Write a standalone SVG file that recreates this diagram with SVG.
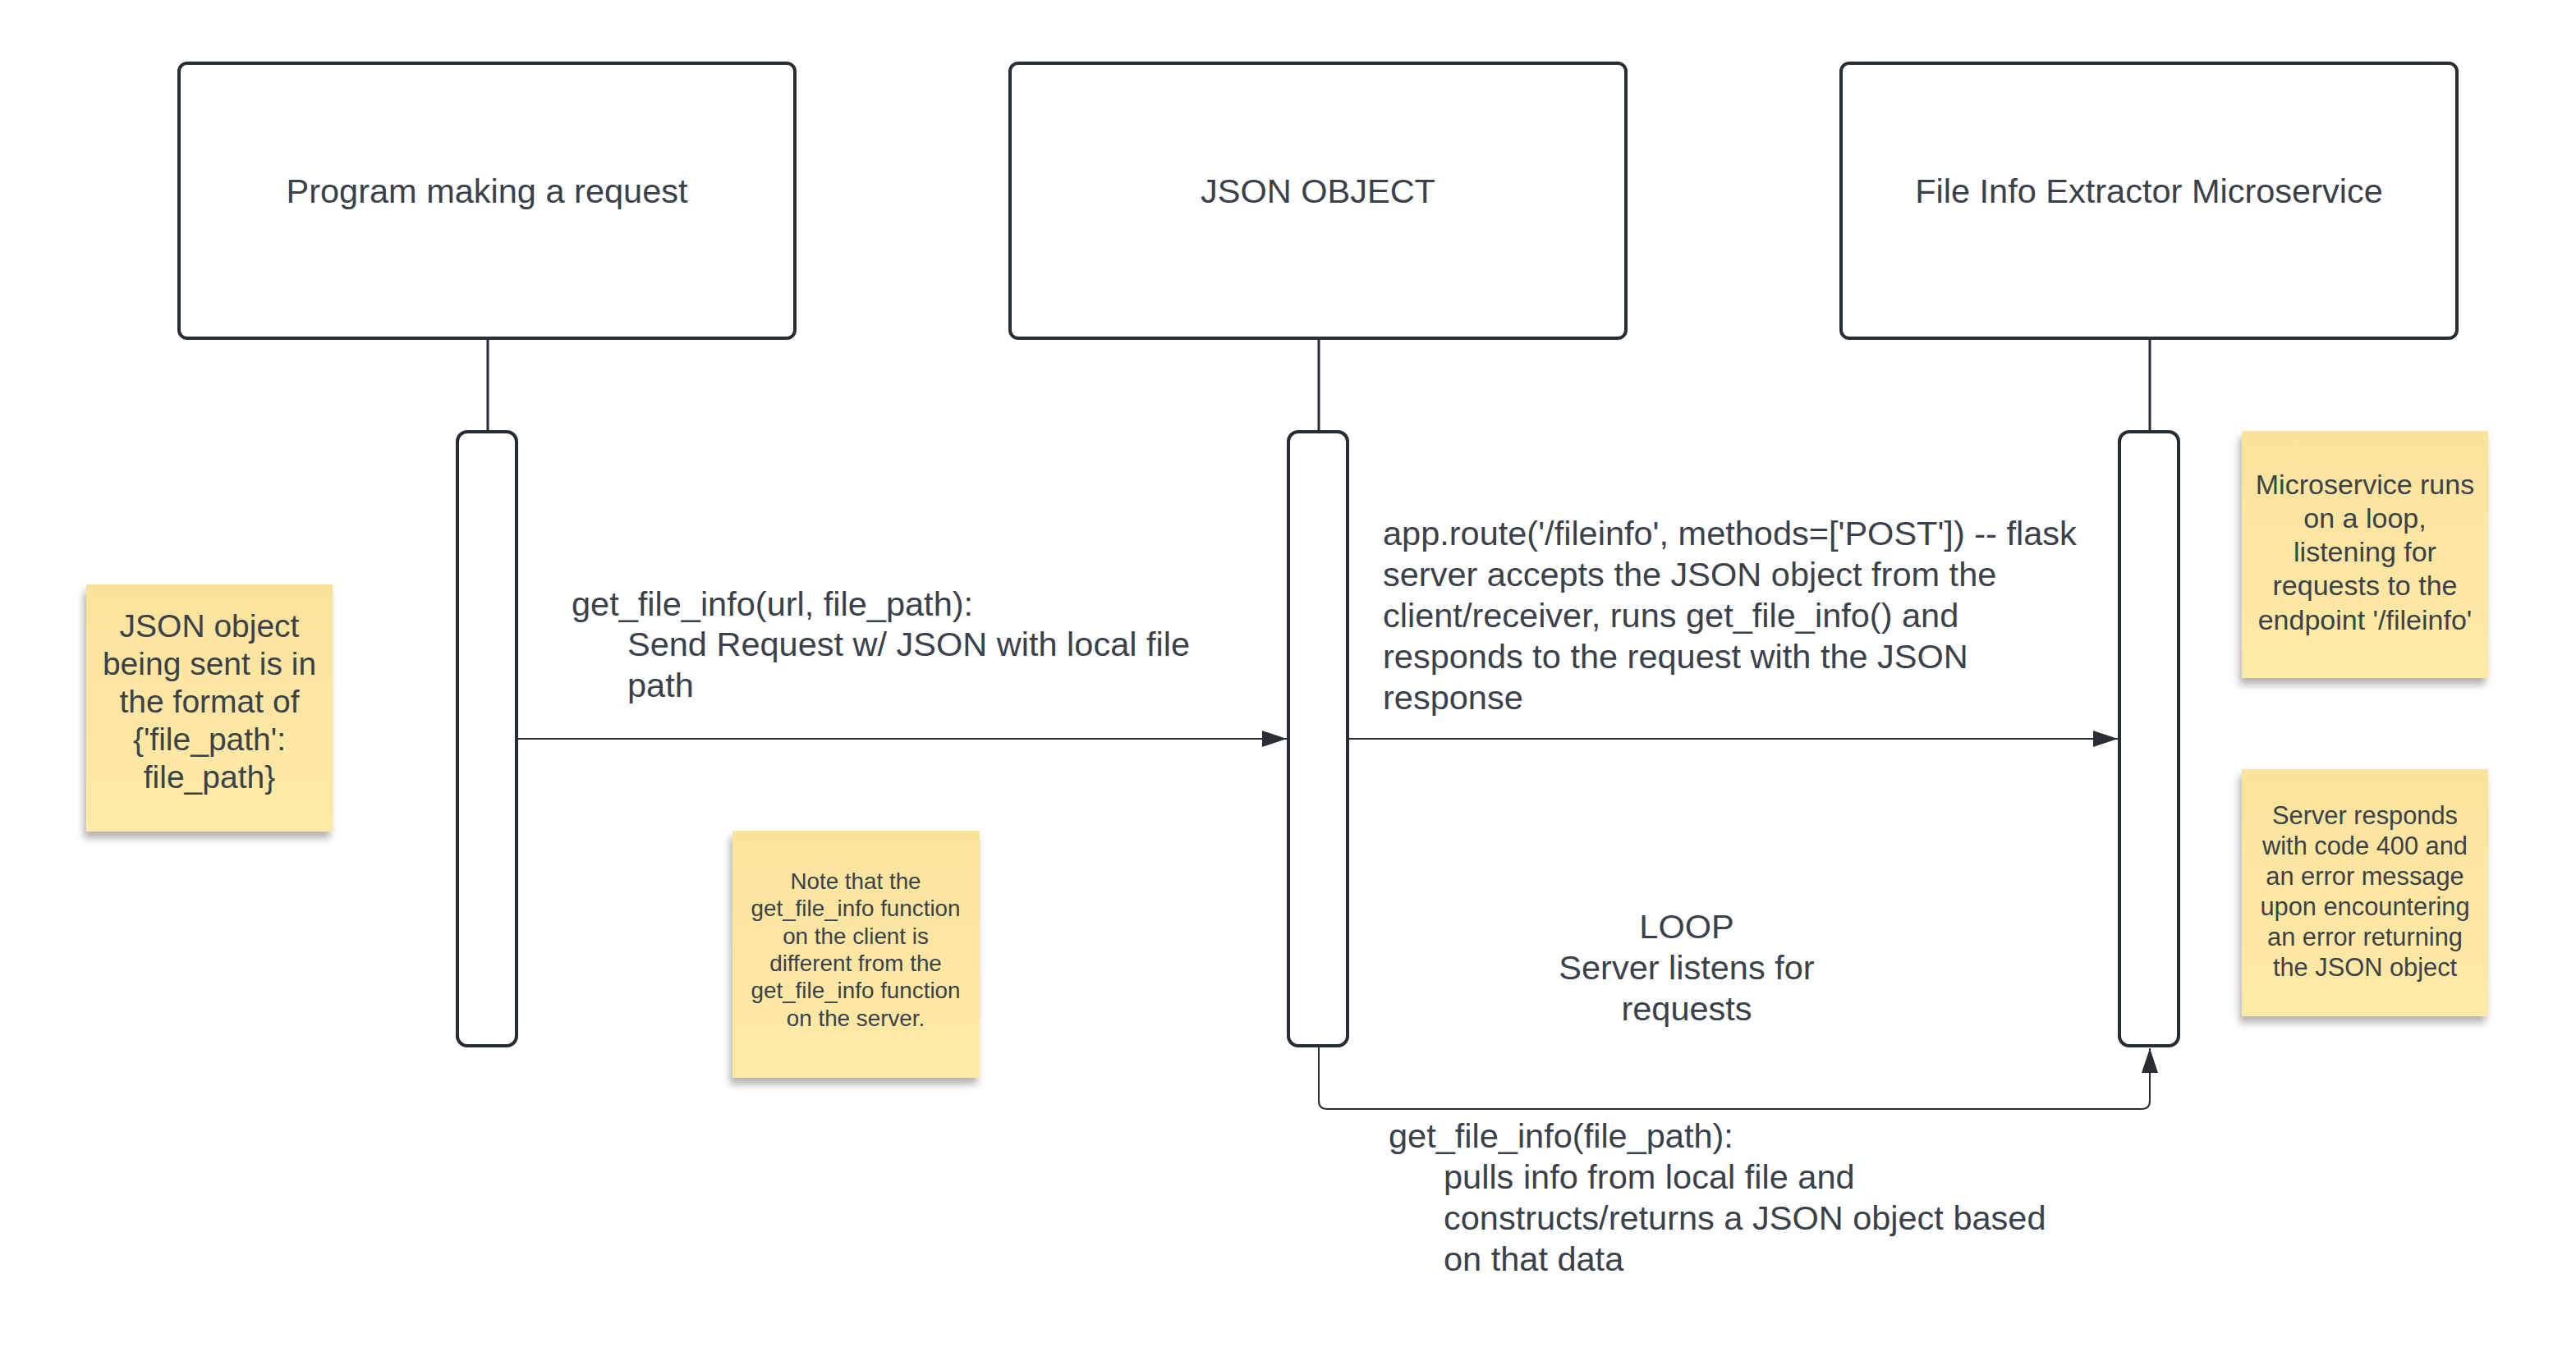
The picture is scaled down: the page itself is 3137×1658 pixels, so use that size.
<svg xmlns="http://www.w3.org/2000/svg" width="3137" height="1658" viewBox="0 0 3137 1658">
<style>
.box{fill:#ffffff;stroke:#282c33;stroke-width:4}
.life{stroke:#282c33;stroke-width:3;fill:none}
.conn{stroke:#282c33;stroke-width:2;fill:none}
.t{font-family:"Liberation Sans",Arial,sans-serif;fill:#3a414a;font-size:41.5px}
.mid{text-anchor:middle}
.note{fill:url(#noteGrad);filter:url(#shadow)}
</style>
<defs>
<linearGradient id="noteGrad" x1="0" y1="0" x2="0" y2="1">
<stop offset="0" stop-color="#fae39d"/>
<stop offset="1" stop-color="#ffeaa6"/>
</linearGradient>
<filter id="shadow" x="-20%" y="-20%" width="140%" height="150%">
<feDropShadow dx="-3" dy="8" stdDeviation="5" flood-color="#000000" flood-opacity="0.3"/>
</filter>
<marker id="arrow" viewBox="0 0 30 20" refX="30" refY="10" markerWidth="30" markerHeight="20" orient="auto" markerUnits="userSpaceOnUse">
<path d="M0,0 L30,10 L0,20 Z" fill="#282c33"/>
</marker>
</defs>
<rect width="3137" height="1658" fill="#ffffff"/>

<g id="program">
<rect class="box" x="218" y="77" width="750" height="335" rx="10"/>
<text class="t mid" x="593" y="247">Program making a request</text>
<line class="life" x1="594" y1="412" x2="594" y2="526"/>
<rect class="box" x="557" y="526" width="72" height="748" rx="12"/>
</g>

<g id="json">
<rect class="box" x="1230" y="77" width="750" height="335" rx="10"/>
<text class="t mid" x="1605" y="247">JSON OBJECT</text>
<line class="life" x1="1606" y1="412" x2="1606" y2="526"/>
<rect class="box" x="1569" y="526" width="72" height="748" rx="12"/>
</g>

<g id="microservice">
<rect class="box" x="2242" y="77" width="750" height="335" rx="10"/>
<text class="t mid" x="2617" y="247">File Info Extractor Microservice</text>
<line class="life" x1="2618" y1="412" x2="2618" y2="526"/>
<rect class="box" x="2581" y="526" width="72" height="748" rx="12"/>
</g>

<g id="connectors">
<line class="conn" x1="631" y1="900" x2="1567" y2="900" marker-end="url(#arrow)"/>
<line class="conn" x1="1643" y1="900" x2="2579" y2="900" marker-end="url(#arrow)"/>
<path class="conn" d="M1606,1276 V1341 Q1606,1351 1616,1351 H2608 Q2618,1351 2618,1341 V1277" marker-end="url(#arrow)"/>
</g>

<g id="label-request">
<text class="t" x="696" y="750">get_file_info(url, file_path):</text>
<text class="t" x="764" y="799">Send Request w/ JSON with local file</text>
<text class="t" x="764" y="849">path</text>
</g>

<g id="label-route">
<text class="t" x="1684" y="664">app.route('/fileinfo', methods=['POST']) -- flask</text>
<text class="t" x="1684" y="714">server accepts the JSON object from the</text>
<text class="t" x="1684" y="764">client/receiver, runs get_file_info() and</text>
<text class="t" x="1684" y="814">responds to the request with the JSON</text>
<text class="t" x="1684" y="864">response</text>
</g>

<g id="label-loop">
<text class="t mid" x="2054" y="1143">LOOP</text>
<text class="t mid" x="2054" y="1193">Server listens for</text>
<text class="t mid" x="2054" y="1243">requests</text>
</g>

<g id="label-getinfo">
<text class="t" x="1691" y="1398">get_file_info(file_path):</text>
<text class="t" x="1758" y="1448">pulls info from local file and</text>
<text class="t" x="1758" y="1498">constructs/returns a JSON object based</text>
<text class="t" x="1758" y="1548">on that data</text>
</g>

<g id="note-json-format">
<rect class="note" x="105" y="712" width="300" height="301"/>
<text class="t mid" style="font-size:39px" x="255" y="776">JSON object</text>
<text class="t mid" style="font-size:39px" x="255" y="822">being sent is in</text>
<text class="t mid" style="font-size:39px" x="255" y="868">the format of</text>
<text class="t mid" style="font-size:39px" x="255" y="914">{'file_path':</text>
<text class="t mid" style="font-size:39px" x="255" y="960">file_path}</text>
</g>

<g id="note-client-server">
<rect class="note" x="892" y="1012" width="301" height="301"/>
<text class="t mid" style="font-size:27.8px" x="1042" y="1083">Note that the</text>
<text class="t mid" style="font-size:27.8px" x="1042" y="1116">get_file_info function</text>
<text class="t mid" style="font-size:27.8px" x="1042" y="1150">on the client is</text>
<text class="t mid" style="font-size:27.8px" x="1042" y="1183">different from the</text>
<text class="t mid" style="font-size:27.8px" x="1042" y="1216">get_file_info function</text>
<text class="t mid" style="font-size:27.8px" x="1042" y="1250">on the server.</text>
</g>

<g id="note-loop">
<rect class="note" x="2730" y="525" width="300" height="301"/>
<text class="t mid" style="font-size:34px" x="2880" y="602">Microservice runs</text>
<text class="t mid" style="font-size:34px" x="2880" y="643">on a loop,</text>
<text class="t mid" style="font-size:34px" x="2880" y="684">listening for</text>
<text class="t mid" style="font-size:34px" x="2880" y="725">requests to the</text>
<text class="t mid" style="font-size:34px" x="2880" y="767">endpoint '/fileinfo'</text>
</g>

<g id="note-error">
<rect class="note" x="2730" y="937" width="300" height="301"/>
<text class="t mid" style="font-size:30.8px" x="2880" y="1004">Server responds</text>
<text class="t mid" style="font-size:30.8px" x="2880" y="1041">with code 400 and</text>
<text class="t mid" style="font-size:30.8px" x="2880" y="1078">an error message</text>
<text class="t mid" style="font-size:30.8px" x="2880" y="1115">upon encountering</text>
<text class="t mid" style="font-size:30.8px" x="2880" y="1152">an error returning</text>
<text class="t mid" style="font-size:30.8px" x="2880" y="1189">the JSON object</text>
</g>
</svg>
